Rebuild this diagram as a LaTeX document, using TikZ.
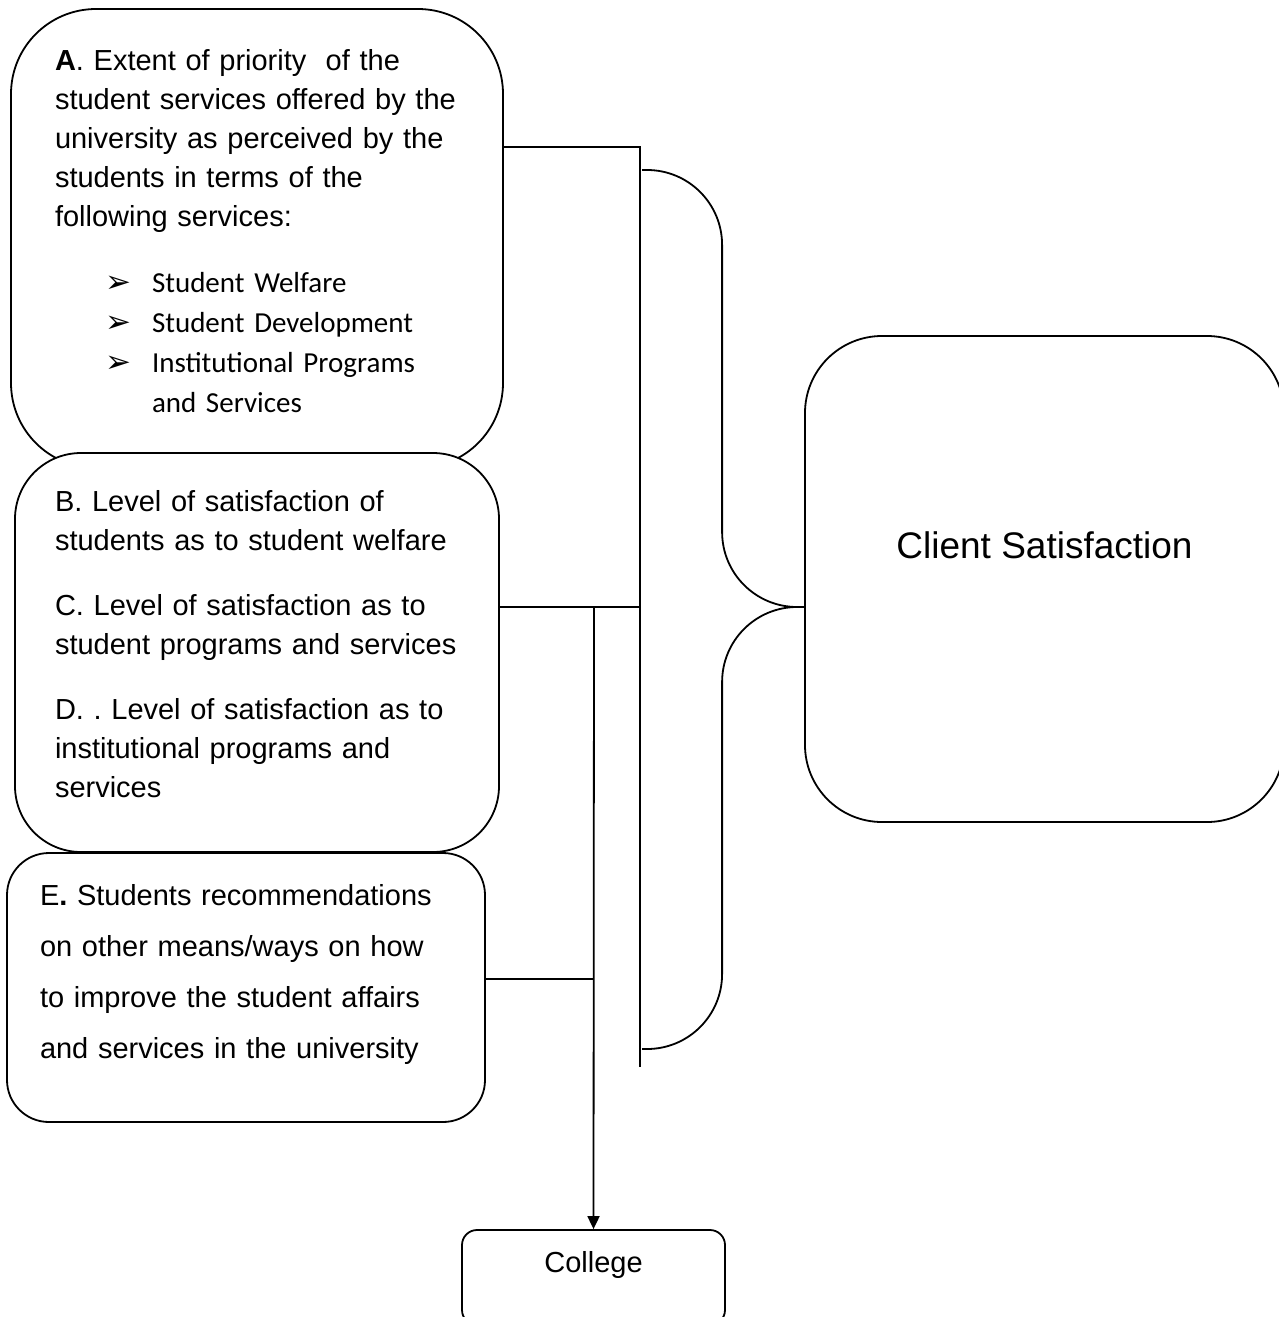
\documentclass[tikz,border=0pt]{standalone}
\usepackage{fontspec}
\setmainfont{Liberation Sans}
\newfontfamily\calfont{Carlito}
\newfontfamily\dingfont{DejaVu Sans}
\usetikzlibrary{arrows.meta, positioning, calc}
\newcommand{\arrowbul}{\makebox[47pt][l]{\dingfont\fontsize{31}{31}\selectfont ➢}}
\frenchspacing

\begin{document}
\begin{tikzpicture}[
    x=1pt, y=-1pt,
    line width=1.8pt,
    roundbox/.style={draw, fill=white, align=left, inner ysep=0pt, text height=0pt},
]
    \useasboundingbox (0,0) rectangle (1278,1317);

    % Left column of boxes
    \node[roundbox, rounded corners=85pt, minimum width=492pt, minimum height=459pt,
          inner xsep=44pt, text width=404pt, text depth=337pt,
          font=\fontsize{29}{39}\selectfont] (boxA) at (257,238.5)
        {\textbf{A}. Extent of priority\ \ of the\\
         student services offered by the\\
         university as perceived by the\\
         students in terms of the\\
         following services:\\[27pt]
         \hspace*{50pt}\arrowbul{\calfont Student Welfare}\\[1.3pt]
         \hspace*{50pt}\arrowbul{\calfont Student Development}\\[1.3pt]
         \hspace*{50pt}\arrowbul{\calfont Institutional Programs}\\[1.3pt]
         \hspace*{97pt}{\calfont and Services}};

    \node[roundbox, rounded corners=66pt, minimum width=484pt, minimum height=399pt,
          inner xsep=40pt, text width=404pt, text depth=283pt,
          font=\fontsize{29}{39}\selectfont] (boxB) at (257,652.5)
        {B. Level of satisfaction of\\
         students as to student welfare\\[26pt]
         C. Level of satisfaction as to\\
         student programs and services\\[26pt]
         D. . Level of satisfaction as to\\
         institutional programs and\\
         services};

    \node[roundbox, rounded corners=42pt, minimum width=478pt, minimum height=269pt,
          inner xsep=33pt, text width=412pt, text depth=165pt,
          font=\fontsize{29}{51}\selectfont] (boxE) at (246,987.5)
        {E\textbf{.} Students recommendations\\
         on other means/ways on how\\
         to improve the student affairs\\
         and services in the university};

    % Right side and bottom
    \node[roundbox, align=center, rounded corners=77pt, minimum width=479pt,
          minimum height=486pt, text depth=42pt,
          font=\fontsize{37}{44}\selectfont] (csat) at (1044.5,579) {Client Satisfaction};

    \node[roundbox, align=center, rounded corners=15pt, minimum width=263pt,
          minimum height=95pt, text depth=11pt,
          font=\fontsize{29}{35}\selectfont] (college) at (593.5,1277.5) {College};

    % Joining lines
    \coordinate (busTop) at (640,147);
    \coordinate (busEnd) at (640,1067);
    \coordinate (joinB) at (640,607);
    \coordinate (split) at (594,607);
    \coordinate (joinE) at (594,979);
    \draw (boxA.east |- busTop) -- (busTop) -- (busEnd);
    \draw (boxB.east |- joinB) -- (joinB);
    \draw (boxE.east |- joinE) -- (joinE);
    \draw[-{Triangle[length=13pt, width=12pt]}] (split) -- (college.north);

    % Brace towards Client Satisfaction
    \coordinate (braceTop) at (642,170);
    \coordinate (braceBot) at (642,1049);
    \coordinate (tip) at (csat.west |- joinB);
    \draw[rounded corners=75pt] (braceTop) -| ([xshift=-82pt]tip) -- (tip);
    \draw[rounded corners=75pt] (tip) -- ([xshift=-82pt]tip) |- (braceBot);
\end{tikzpicture}
\end{document}
